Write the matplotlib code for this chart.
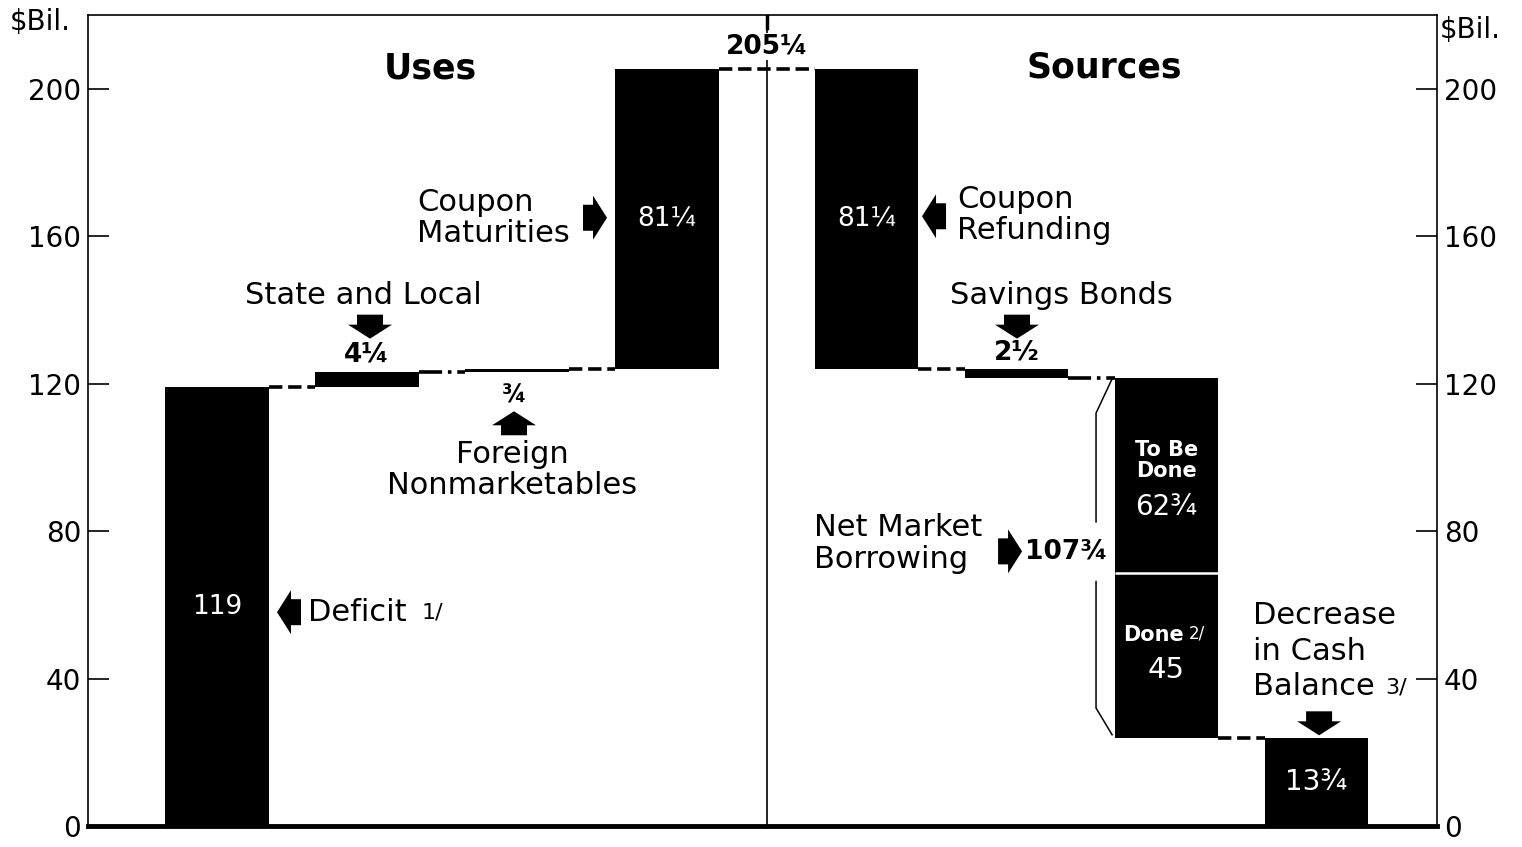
import numpy as np
import matplotlib.pyplot as plt
import matplotlib.transforms as mtransforms
from matplotlib.patches import Polygon

# Uses side (left), built up from zero
uses_names = ["Deficit", "State and Local", "Foreign Nonmarketables", "Coupon Maturities"]
uses_vals = [119, 4.25, 0.75, 81.25]
uses_labels = ["119", "4\u00bc", "\u00be", "81\u00bc"]

# Sources side (right), stepping down from the total
sources_names = ["Coupon Refunding", "Savings Bonds", "To Be Done", "Done", "Decrease in Cash Balance"]
sources_vals = [81.25, 2.5, 62.75, 45, 13.75]
sources_labels = ["81\u00bc", "2\u00bd", "62\u00be", "45", "13\u00be"]
# heights as drawn in the original (bottom of the chart is not to scale)
sources_drawn = [81.25, 2.5, 52.75, 45, 23.75]

total_label = "205\u00bc"
nmb_label = "107\u00be"
yticks = [0, 40, 80, 120, 160, 200]

W = 0.69
uses_x = np.arange(4)
sources_x = np.array([4.33, 5.33, 6.33, 6.33, 7.33])
center_x = 3.665

fig = plt.figure(figsize=(15.22, 8.47), dpi=100)
ax = fig.add_axes([88 / 1522, 1 - 826 / 847, (1437 - 88) / 1522, (826 - 15) / 847])
ax.set_xlim(-0.86, 8.133)
ax.set_ylim(0, 220)


def block_arrow(x, y, direction):
    # arrow outline in pixels, tip at origin, pointing right
    pts = np.array([[0, 0], [-14, 22], [-14, 13], [-24, 13],
                    [-24, -13], [-14, -13], [-14, -22]]) / 100.0
    th = np.deg2rad({"right": 0, "left": 180, "up": 90, "down": -90}[direction])
    rot = np.array([[np.cos(th), -np.sin(th)], [np.sin(th), np.cos(th)]])
    trans = fig.dpi_scale_trans + mtransforms.ScaledTranslation(x, y, ax.transData)
    ax.add_patch(Polygon(pts @ rot.T, closed=True, transform=trans,
                         color="black", lw=0, clip_on=False, zorder=5))


# uses bars
uses_bottom = np.concatenate([[0], np.cumsum(uses_vals)[:-1]])
uses_top = uses_bottom + np.array(uses_vals)
ax.bar(uses_x, uses_vals, bottom=uses_bottom, width=W, color="black", lw=0)

# sources bars
total = sum(uses_vals)
src_top = total - np.concatenate([[0], np.cumsum(sources_drawn)[:-1]])
src_bottom = src_top - np.array(sources_drawn)
ax.bar(sources_x, sources_drawn, bottom=src_bottom, width=W, color="black", lw=0)
ax.hlines(src_bottom[2], sources_x[2] - W / 2, sources_x[2] + W / 2, color="white", lw=1.8, zorder=3)

# connectors
conn = dict(color="black", lw=2.6)
for i, ls in enumerate(["--", "-.", "--"]):
    ax.plot([uses_x[i] + W / 2, uses_x[i + 1] - W / 2], [uses_top[i]] * 2, ls=ls, **conn)
ax.plot([uses_x[3] + W / 2, sources_x[0] - W / 2], [total] * 2, ls="--", **conn)
ax.plot([sources_x[0] + W / 2, sources_x[1] - W / 2], [src_bottom[0]] * 2, ls="--", **conn)
ax.plot([sources_x[1] + W / 2, sources_x[2] - W / 2], [src_bottom[1]] * 2, ls="-.", **conn)
ax.plot([sources_x[3] + W / 2, sources_x[4] - W / 2], [src_bottom[3]] * 2, ls="--", **conn)

# center divider
ax.plot([center_x, center_x], [0, 220], color="black", lw=1.2, zorder=0.5)
ax.plot([center_x, center_x], [216.5, 220], color="black", lw=2.5)

# bracket for net market borrowing
bx0, bx1 = 5.967, 5.86
ax.plot([bx0, bx1, bx1], [src_top[2] - 0.2, 112, 82.5], color="black", lw=1.1)
ax.plot([bx1, bx1, bx0], [66.3, 32, src_bottom[3] + 1], color="black", lw=1.1)

# values inside bars
white = dict(color="white", ha="center", va="center")
ax.text(uses_x[0], uses_top[0] / 2, uses_labels[0], fontsize=19, **white)
ax.text(uses_x[3], (uses_bottom[3] + uses_top[3]) / 2, uses_labels[3], fontsize=19, **white)
ax.text(sources_x[0], (src_bottom[0] + src_top[0]) / 2, sources_labels[0], fontsize=19, **white)
ax.text(sources_x[2], 99.1, "To Be\nDone", fontsize=15, fontweight="bold", linespacing=1.05, **white)
ax.text(sources_x[2], 86.6, sources_labels[2], fontsize=20, **white)
ax.text(6.24, 51.7, "Done", fontsize=15, fontweight="bold", **white)
ax.text(6.53, 52.3, "2/", fontsize=12, **white)
ax.text(sources_x[3], 42.2, sources_labels[3], fontsize=21, **white)
ax.text(sources_x[4], src_top[4] / 2, sources_labels[4], fontsize=20, **white)

# small bar values
bold = dict(ha="center", va="center", fontweight="bold")
ax.text(uses_x[1], 127.9, uses_labels[1], fontsize=19, **bold)
ax.text(1.98, 116.8, uses_labels[2], fontsize=17, **bold)
ax.text(sources_x[1], 128.4, sources_labels[1], fontsize=19, **bold)
ax.text(center_x, 211.5, total_label, fontsize=19, zorder=6,
        bbox=dict(fc="white", ec="none", pad=0.5), **bold)
ax.text(5.387, 74.5, nmb_label, fontsize=19, ha="left", va="center", fontweight="bold")

# headings
ax.text(1.42, 205.4, "Uses", fontsize=25, **bold)
ax.text(5.913, 205.8, "Sources", fontsize=25, **bold)

# item labels
lab = dict(fontsize=22, va="center")
ax.text(0.607, 58.0, "Deficit", ha="left", **lab)
ax.text(1.365, 57.8, "1/", ha="left", fontsize=16, va="center")
ax.text(1.333, 165.0, "Coupon\nMaturities", ha="left", linespacing=1.1, **lab)
ax.text(4.933, 165.7, "Coupon\nRefunding", ha="left", linespacing=1.1, **lab)
ax.text(0.973, 143.9, "State and Local", ha="center", **lab)
ax.text(1.967, 96.5, "Foreign\nNonmarketables", ha="center", linespacing=1.1, **lab)
ax.text(5.627, 143.8, "Savings Bonds", ha="center", **lab)
ax.text(3.98, 76.6, "Net Market\nBorrowing", ha="left", linespacing=1.1, **lab)
ax.text(6.907, 57.0, "Decrease", ha="left", **lab)
ax.text(6.907, 47.3, "in Cash", ha="left", **lab)
ax.text(6.907, 37.8, "Balance", ha="left", **lab)
ax.text(7.79, 37.6, "3/", ha="left", fontsize=16, va="center")

# arrows
block_arrow(0.40, 58.0, "left")
block_arrow(2.60, 165.0, "right")
block_arrow(4.70, 165.4, "left")
block_arrow(1.02, 132.2, "down")
block_arrow(1.98, 112.5, "up")
block_arrow(5.333, 132.2, "down")
block_arrow(5.367, 74.5, "right")
block_arrow(7.347, 24.6, "down")

# axes styling
ax.set_xticks([])
ax.set_yticks(yticks)
ax.tick_params(axis="y", direction="in", length=15, width=1.2, labelsize=20, pad=5,
               right=True, labelright=True)
for side in ["left", "right", "top"]:
    ax.spines[side].set_linewidth(1.2)
ax.spines["bottom"].set_linewidth(3.5)

fig.text(10 / 1522, 1 - 22 / 847, "$Bil.", fontsize=20, ha="left", va="center")
fig.text(1440 / 1522, 1 - 30 / 847, "$Bil.", fontsize=20, ha="left", va="center")

fig.savefig("out.png", dpi=100)
